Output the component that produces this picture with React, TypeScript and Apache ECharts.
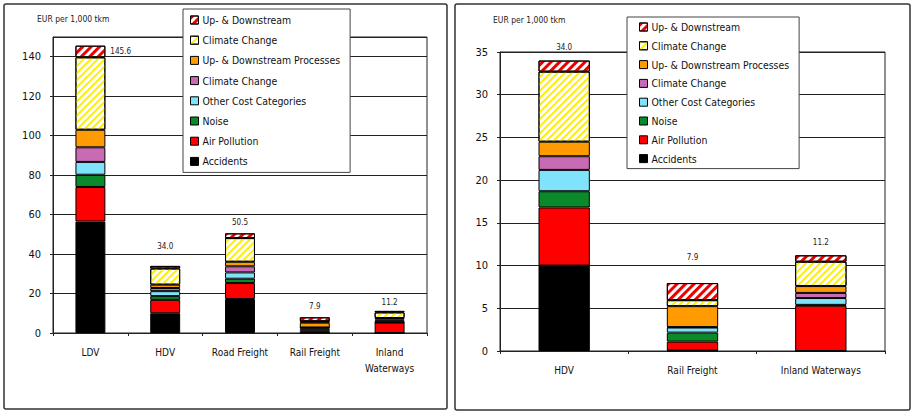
import React, { useEffect, useRef } from "react";
import * as echarts from "echarts";

const leftCategories = ["LDV", "HDV", "Road Freight", "Rail Freight", "Inland\nWaterways"];
const rightCategories = ["HDV", "Rail Freight", "Inland Waterways"];
const rightIndexes = [1, 3, 4];

const seriesKeys = ["acc", "air", "noise", "other", "cc", "udp", "ccH", "udH"];
const seriesLabels = [
  "Accidents",
  "Air Pollution",
  "Noise",
  "Other Cost Categories",
  "Climate Change",
  "Up- & Downstream Processes",
  "Climate Change",
  "Up- & Downstream",
];
const seriesColors = ["#000000", "#ff0000", "#0a8a2a", "#7fe4fb", "#c86bb4", "#ff9a00", "#ffffff", "#ffffff"];

const accidents = [56.5, 10.0, 17.2, 0.05, 0];
const airPollution = [17.5, 6.8, 8.1, 1.05, 5.3];
const noise = [6.2, 1.9, 2.2, 1.05, 0.1];
const otherCost = [6.5, 2.5, 3.2, 0.6, 0.8];
const climateChange = [7.4, 1.6, 3.1, 0.05, 0.6];
const upDownProcesses = [8.9, 1.7, 2.3, 2.45, 0.8];
const climateChangeHatched = [36.7, 8.2, 12.0, 0.7, 2.85];
const upDownHatched = [5.9, 1.3, 2.4, 2.0, 0.75];

const leftTotals = ["145.6", "34.0", "50.5", "7.9", "11.2"];
const rightTotals = ["34.0", "7.9", "11.2"];

const leftTicks = [0, 20, 40, 60, 80, 100, 120, 140];
const rightTicks = [0, 5, 10, 15, 20, 25, 30, 35];

const allValues = [accidents, airPollution, noise, otherCost, climateChange, upDownProcesses, climateChangeHatched, upDownHatched];

const FONT = "'DejaVu Sans Condensed', 'DejaVu Sans', sans-serif";

export default function App() {
  const ref = useRef<HTMLDivElement>(null);
  useEffect(() => {
    if (!ref.current) return;
    const chart = echarts.init(ref.current, undefined, { renderer: "svg" });

    const legendOrder = ["udH", "ccH", "udp", "cc", "other", "noise", "air", "acc"];
    const nameMap: Record<string, string> = {};
    seriesKeys.forEach((k, i) => (nameMap[k] = seriesLabels[i]));

    const decalFor = (k: string) => {
      if (k === "ccH")
        return { symbol: "rect", color: "#ffee00", dashArrayX: [1, 0], dashArrayY: [2, 3], rotation: -Math.PI / 4, symbolSize: 1 };
      if (k === "udH")
        return { symbol: "rect", color: "#ee0000", dashArrayX: [1, 0], dashArrayY: [3, 3], rotation: -Math.PI / 4, symbolSize: 1 };
      return undefined;
    };

    const leftLabelCfg = [
      { position: "right", distance: 5 },
      { position: "top", distance: 15 },
      { position: "top", distance: 7 },
      { position: "top", distance: 7 },
      { position: "top", distance: 4 },
    ];
    const rightLabelCfg = [
      { position: "top", distance: 9 },
      { position: "top", distance: 22 },
      { position: "top", distance: 9 },
    ];

    const series: any[] = [];
    [0, 1].forEach((g) => {
      seriesKeys.forEach((k, i) => {
        const vals = g === 0 ? allValues[i] : rightIndexes.map((j) => allValues[i][j]);
        const isTop = k === "udH";
        const totals = g === 0 ? leftTotals : rightTotals;
        const cfg = g === 0 ? leftLabelCfg : rightLabelCfg;
        const decal = decalFor(k);
        series.push({
          type: "bar",
          name: k,
          stack: "s" + g,
          xAxisIndex: g,
          yAxisIndex: g,
          barWidth: "40%",
          itemStyle: {
            color: seriesColors[i],
            borderColor: "#000",
            borderWidth: 1,
            ...(decal ? { decal } : {}),
          },
          emphasis: { disabled: true },
          label: isTop
            ? {
                show: true,
                formatter: (p: any) => totals[p.dataIndex],
                fontSize: 8,
                color: "#222",
                fontFamily: FONT,
              }
            : { show: false },
          data: vals.map((v, j) => (isTop ? { value: v, label: cfg[j] } : v)),
        });
      });
    });

    const axisLabelY = { color: "#111", fontSize: 11, fontFamily: FONT, margin: 12 };
    const axisLabelX = { color: "#111", fontSize: 10, fontFamily: FONT, margin: 11, lineHeight: 16 };

    const legendCommon = {
      orient: "vertical",
      selectedMode: false,
      icon: "rect",
      itemWidth: 8,
      itemHeight: 8,
      data: legendOrder,
      formatter: (n: string) => nameMap[n],
      textStyle: { fontSize: 10.4, fontFamily: FONT, color: "#111", lineHeight: 12, padding: [0, 0, 0, -1] },
      backgroundColor: "#fff",
      borderColor: "#444",
      borderWidth: 1,
      itemStyle: { borderColor: "#000", borderWidth: 1 },
    };

    chart.setOption({
      animation: false,
      backgroundColor: "#fff",
      graphic: [
        { type: "rect", shape: { x: 4, y: 4, width: 443, height: 405, r: 2 }, style: { fill: "none", stroke: "#333", lineWidth: 1.5 }, z: 100 },
        { type: "rect", shape: { x: 455, y: 4, width: 455, height: 406, r: 2 }, style: { fill: "none", stroke: "#333", lineWidth: 1.5 }, z: 100 },
      ],
      grid: [
        { left: 53, top: 37, width: 374, height: 296, show: true, borderColor: "#222", borderWidth: 1, backgroundColor: "transparent" },
        { left: 500, top: 52, width: 385, height: 299, show: true, borderColor: "#222", borderWidth: 1, backgroundColor: "transparent" },
      ],
      legend: [
        { ...legendCommon, left: 183, top: 9, itemGap: 8.2, padding: [5, 10, 5, 7] },
        { ...legendCommon, left: 627, top: 17, itemGap: 6.8, padding: [4, 10, 4, 12] },
      ],
      xAxis: [
        {
          type: "category",
          gridIndex: 0,
          data: leftCategories,
          axisLine: { lineStyle: { color: "#222", width: 1 } },
          axisTick: { show: true, length: 3, lineStyle: { color: "#222" } },
          axisLabel: axisLabelX,
        },
        {
          type: "category",
          gridIndex: 1,
          data: rightCategories,
          axisLine: { lineStyle: { color: "#222", width: 1 } },
          axisTick: { show: true, length: 3, lineStyle: { color: "#222" } },
          axisLabel: axisLabelX,
        },
      ],
      yAxis: [
        {
          type: "value",
          gridIndex: 0,
          min: leftTicks[0],
          max: 150,
          interval: leftTicks[1] - leftTicks[0],
          name: "EUR per 1,000 tkm",
          nameLocation: "end",
          nameGap: 14,
          nameTextStyle: { fontSize: 8.5, fontFamily: FONT, color: "#222", align: "left", padding: [0, 0, 0, -16] },
          axisLine: { show: true, lineStyle: { color: "#222" } },
          axisTick: { show: true, length: 3, lineStyle: { color: "#222" } },
          splitLine: { lineStyle: { color: "#222", width: 1 } },
          axisLabel: { ...axisLabelY, showMaxLabel: false },
        },
        {
          type: "value",
          gridIndex: 1,
          min: rightTicks[0],
          max: rightTicks[rightTicks.length - 1],
          interval: rightTicks[1] - rightTicks[0],
          name: "EUR per 1,000 tkm",
          nameLocation: "end",
          nameGap: 28,
          nameTextStyle: { fontSize: 8.5, fontFamily: FONT, color: "#222", align: "left", padding: [0, 0, 0, -7] },
          axisLine: { show: true, lineStyle: { color: "#222" } },
          axisTick: { show: true, length: 3, lineStyle: { color: "#222" } },
          splitLine: { lineStyle: { color: "#222", width: 1 } },
          axisLabel: axisLabelY,
        },
      ],
      series,
    });
    return () => chart.dispose();
  }, []);
  return <div ref={ref} style={{ position: "fixed", left: 0, top: 0, width: 913, height: 416, background: "#fff" }} />;
}
